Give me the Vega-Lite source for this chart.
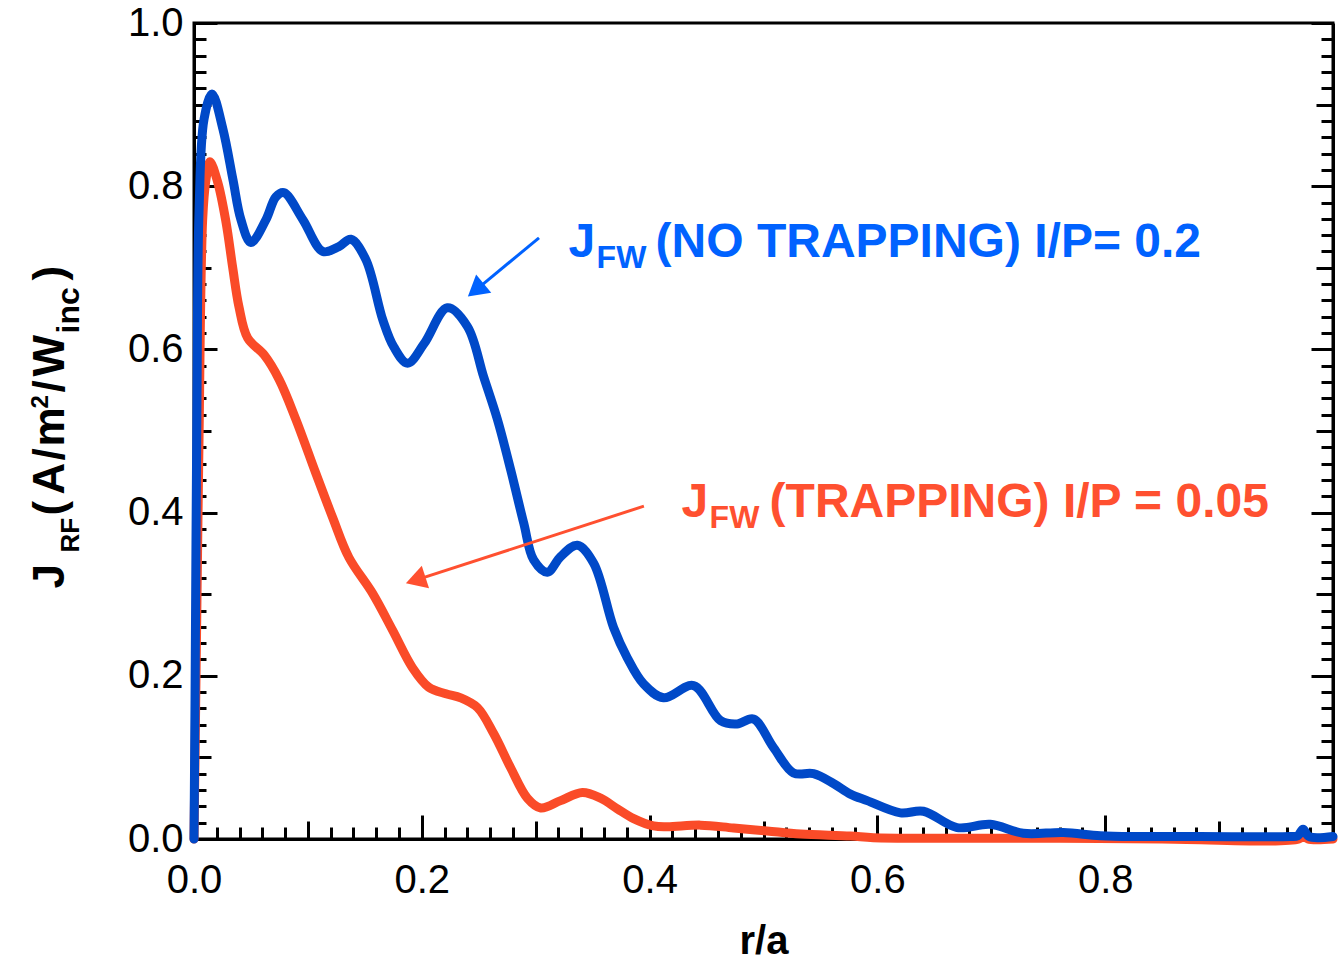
{
  "$schema": "https://vega.github.io/schema/vega-lite/v6.json",
  "autosize": {"type": "none"},
  "padding": {"left": 194, "top": 23, "right": 5, "bottom": 129},
  "width": 1139,
  "height": 816,
  "background": "white",
  "data": {"values": [{}]},
  "config": {
    "view": {"stroke": "black", "strokeWidth": 3},
    "axis": {
      "grid": false,
      "domainColor": "black",
      "domainWidth": 3,
      "tickColor": "black",
      "tickWidth": 3,
      "labelFont": "Liberation Sans",
      "labelFontSize": 40,
      "labelColor": "black",
      "labelFlush": false,
      "labelOverlap": false,
      "titleColor": "black"
    }
  },
  "datasets": {
    "notrap": [
      {"r": 0, "j": 0}, {"r": 0.0009, "j": 0.17}, {"r": 0.0026, "j": 0.538}, {"r": 0.0044, "j": 0.768},
      {"r": 0.0088, "j": 0.882}, {"r": 0.0158, "j": 0.913}, {"r": 0.0254, "j": 0.87}, {"r": 0.0342, "j": 0.808},
      {"r": 0.0412, "j": 0.759}, {"r": 0.05, "j": 0.731}, {"r": 0.0632, "j": 0.759}, {"r": 0.0719, "j": 0.787},
      {"r": 0.0789, "j": 0.792}, {"r": 0.0956, "j": 0.759}, {"r": 0.1132, "j": 0.72}, {"r": 0.1272, "j": 0.726},
      {"r": 0.1377, "j": 0.735}, {"r": 0.1509, "j": 0.71}, {"r": 0.1658, "j": 0.636}, {"r": 0.1754, "j": 0.603},
      {"r": 0.1875, "j": 0.583}, {"r": 0.202, "j": 0.607}, {"r": 0.2225, "j": 0.651}, {"r": 0.2401, "j": 0.628},
      {"r": 0.2544, "j": 0.566}, {"r": 0.2664, "j": 0.514}, {"r": 0.2781, "j": 0.452}, {"r": 0.2895, "j": 0.387},
      {"r": 0.2982, "j": 0.342}, {"r": 0.3103, "j": 0.327}, {"r": 0.3219, "j": 0.346}, {"r": 0.3366, "j": 0.36},
      {"r": 0.3509, "j": 0.338}, {"r": 0.3684, "j": 0.259}, {"r": 0.3804, "j": 0.222}, {"r": 0.3947, "j": 0.19},
      {"r": 0.4123, "j": 0.173}, {"r": 0.4386, "j": 0.188}, {"r": 0.4623, "j": 0.145}, {"r": 0.4769, "j": 0.141},
      {"r": 0.4912, "j": 0.147}, {"r": 0.5088, "j": 0.112}, {"r": 0.5263, "j": 0.081}, {"r": 0.5439, "j": 0.08},
      {"r": 0.5614, "j": 0.068}, {"r": 0.5763, "j": 0.055}, {"r": 0.591, "j": 0.047}, {"r": 0.6202, "j": 0.032},
      {"r": 0.6404, "j": 0.034}, {"r": 0.6699, "j": 0.014}, {"r": 0.6991, "j": 0.018}, {"r": 0.7281, "j": 0.007},
      {"r": 0.7632, "j": 0.008}, {"r": 0.7956, "j": 0.004}, {"r": 0.8307, "j": 0.003}, {"r": 0.8833, "j": 0.003},
      {"r": 0.9623, "j": 0.003}, {"r": 0.969, "j": 0.004}, {"r": 0.9737, "j": 0.012}, {"r": 0.9789, "j": 0.003},
      {"r": 1.0, "j": 0.003}
    ],
    "trap": [
      {"r": 0, "j": 0}, {"r": 0.0026, "j": 0.292}, {"r": 0.0044, "j": 0.489}, {"r": 0.0076, "j": 0.759},
      {"r": 0.0105, "j": 0.808}, {"r": 0.014, "j": 0.83}, {"r": 0.0208, "j": 0.805}, {"r": 0.0281, "j": 0.756},
      {"r": 0.0339, "j": 0.701}, {"r": 0.0395, "j": 0.652}, {"r": 0.0471, "j": 0.614}, {"r": 0.0617, "j": 0.593},
      {"r": 0.0748, "j": 0.563}, {"r": 0.0895, "j": 0.514}, {"r": 0.107, "j": 0.448}, {"r": 0.1217, "j": 0.394},
      {"r": 0.136, "j": 0.345}, {"r": 0.1568, "j": 0.301}, {"r": 0.1743, "j": 0.256}, {"r": 0.1918, "j": 0.21},
      {"r": 0.2061, "j": 0.186}, {"r": 0.2211, "j": 0.178}, {"r": 0.2342, "j": 0.173}, {"r": 0.2489, "j": 0.161},
      {"r": 0.2632, "j": 0.129}, {"r": 0.2781, "j": 0.087}, {"r": 0.2927, "j": 0.05}, {"r": 0.3044, "j": 0.038},
      {"r": 0.3219, "j": 0.047}, {"r": 0.341, "j": 0.057}, {"r": 0.357, "j": 0.05}, {"r": 0.3717, "j": 0.037},
      {"r": 0.386, "j": 0.025}, {"r": 0.4035, "j": 0.016}, {"r": 0.4155, "j": 0.015}, {"r": 0.4447, "j": 0.017},
      {"r": 0.4737, "j": 0.0135}, {"r": 0.5032, "j": 0.0098}, {"r": 0.5325, "j": 0.0061}, {"r": 0.5763, "j": 0.0037},
      {"r": 0.5965, "j": 0.0016}, {"r": 0.664, "j": 0.001}, {"r": 0.76, "j": 0.001}, {"r": 0.85, "j": 0.0},
      {"r": 0.97, "j": 0.0}, {"r": 0.974, "j": 0.004}, {"r": 0.978, "j": 0.0}, {"r": 1.0, "j": 0.0}
    ]
  },
  "resolve": {"axis": {"x": "independent", "y": "independent"}},
  "layer": [
    {
      "data": {"name": "trap"},
      "mark": {"type": "line", "color": "#FA4B28", "strokeWidth": 9, "interpolate": "catmull-rom", "strokeJoin": "round", "strokeCap": "round"},
      "encoding": {
        "x": {"field": "r", "type": "quantitative", "scale": {"domain": [0, 1], "nice": false, "zero": false},
          "axis": {"orient": "bottom", "values": [0, 0.2, 0.4, 0.6, 0.8], "format": ".1f", "tickSize": -24, "labelPadding": 45,
            "title": "r/a", "titleFont": "Liberation Sans", "titleFontSize": 40, "titleFontWeight": "bold", "titlePadding": 21}},
        "y": {"field": "j", "type": "quantitative", "scale": {"domain": [0, 1], "nice": false, "zero": false},
          "axis": {"orient": "left", "values": [0, 0.2, 0.4, 0.6, 0.8, 1.0], "format": ".1f", "tickSize": -23, "labelPadding": 34, "title": null}}
      }
    },
    {
      "data": {"name": "notrap"},
      "mark": {"type": "line", "color": "#0049C8", "strokeWidth": 9, "interpolate": "catmull-rom", "strokeJoin": "round", "strokeCap": "round"},
      "encoding": {
        "x": {"field": "r", "type": "quantitative",
          "axis": {"orient": "bottom", "values": [0.1, 0.3, 0.5, 0.7, 0.9], "tickSize": -18, "labels": false, "domain": false, "title": null}},
        "y": {"field": "j", "type": "quantitative",
          "axis": {"orient": "left", "values": [0.1, 0.3, 0.5, 0.7, 0.9], "tickSize": -17, "labels": false, "domain": false, "title": null}}
      }
    },
    {
      "mark": {"type": "rule", "color": "#FF5030", "strokeWidth": 3},
      "encoding": {
        "x": {"datum": 0.395, "type": "quantitative",
          "axis": {"orient": "bottom", "values": [0.02,0.04,0.06,0.08,0.1,0.12,0.14,0.16,0.18,0.2,0.22,0.24,0.26,0.28,0.3,0.32,0.34,0.36,0.38,0.4,0.42,0.44,0.46,0.48,0.5,0.52,0.54,0.56,0.58,0.6,0.62,0.64,0.66,0.68,0.7,0.72,0.74,0.76,0.78,0.8,0.82,0.84,0.86,0.88,0.9,0.92,0.94,0.96,0.98], "tickSize": -12, "labels": false, "domain": false, "title": null}},
        "y": {"datum": 0.4079, "type": "quantitative",
          "axis": {"orient": "left", "values": [0.02,0.04,0.06,0.08,0.1,0.12,0.14,0.16,0.18,0.2,0.22,0.24,0.26,0.28,0.3,0.32,0.34,0.36,0.38,0.4,0.42,0.44,0.46,0.48,0.5,0.52,0.54,0.56,0.58,0.6,0.62,0.64,0.66,0.68,0.7,0.72,0.74,0.76,0.78,0.8,0.82,0.84,0.86,0.88,0.9,0.92,0.94,0.96,0.98], "tickSize": -12, "labels": false, "domain": false, "title": null}},
        "x2": {"datum": 0.1946},
        "y2": {"datum": 0.3172}
      }
    },
    {
      "mark": {"type": "rule", "color": "#0062FF", "strokeWidth": 3},
      "encoding": {
        "x": {"datum": 0.3029, "type": "quantitative", "axis": null},
        "y": {"datum": 0.7367, "type": "quantitative",
          "axis": {"orient": "right", "values": [0, 0.2, 0.4, 0.6, 0.8, 1.0], "tickSize": -22, "labels": false, "domain": true, "title": null}},
        "x2": {"datum": 0.2474},
        "y2": {"datum": 0.6727}
      }
    },
    {
      "mark": {"type": "point", "shape": "triangle-up", "filled": true, "color": "#FF5030", "opacity": 1, "size": 560, "angle": 252.1},
      "encoding": {
        "x": {"datum": 0.1946, "type": "quantitative", "axis": null},
        "y": {"datum": 0.3172, "type": "quantitative",
          "axis": {"orient": "right", "values": [0.1, 0.3, 0.5, 0.7, 0.9], "tickSize": -17, "labels": false, "domain": false, "title": null}}
      }
    },
    {
      "mark": {"type": "point", "shape": "triangle-up", "filled": true, "color": "#0062FF", "opacity": 1, "size": 560, "angle": 230.3},
      "encoding": {
        "x": {"datum": 0.2474, "type": "quantitative", "axis": null},
        "y": {"datum": 0.6727, "type": "quantitative",
          "axis": {"orient": "right", "values": [0.02,0.04,0.06,0.08,0.1,0.12,0.14,0.16,0.18,0.2,0.22,0.24,0.26,0.28,0.3,0.32,0.34,0.36,0.38,0.4,0.42,0.44,0.46,0.48,0.5,0.52,0.54,0.56,0.58,0.6,0.62,0.64,0.66,0.68,0.7,0.72,0.74,0.76,0.78,0.8,0.82,0.84,0.86,0.88,0.9,0.92,0.94,0.96,0.98], "tickSize": -12, "labels": false, "domain": false, "title": null}}
      }
    },
    {
      "encoding": {
        "x": {"datum": 0.3289, "type": "quantitative", "axis": null},
        "y": {"datum": 0.7138, "type": "quantitative", "axis": null}
      },
      "layer": [
        {"mark": {"type": "text", "text": "J", "align": "left", "baseline": "alphabetic", "font": "Liberation Sans", "fontSize": 48, "fontWeight": "bold", "color": "#0062FF"}},
        {"mark": {"type": "text", "text": "FW", "align": "left", "baseline": "alphabetic", "font": "Liberation Sans", "fontSize": 32, "fontWeight": "bold", "color": "#0062FF", "dx": 28, "dy": 11}},
        {"mark": {"type": "text", "text": "(NO TRAPPING) I/P= 0.2", "align": "left", "baseline": "alphabetic", "font": "Liberation Sans", "fontSize": 48, "fontWeight": "bold", "color": "#0062FF", "dx": 87}}
      ]
    },
    {
      "encoding": {
        "x": {"datum": 0.4281, "type": "quantitative", "axis": null},
        "y": {"datum": 0.3943, "type": "quantitative", "axis": null}
      },
      "layer": [
        {"mark": {"type": "text", "text": "J", "align": "left", "baseline": "alphabetic", "font": "Liberation Sans", "fontSize": 48, "fontWeight": "bold", "color": "#FF5030"}},
        {"mark": {"type": "text", "text": "FW", "align": "left", "baseline": "alphabetic", "font": "Liberation Sans", "fontSize": 32, "fontWeight": "bold", "color": "#FF5030", "dx": 28, "dy": 11}},
        {"mark": {"type": "text", "text": "(TRAPPING) I/P = 0.05", "align": "left", "baseline": "alphabetic", "font": "Liberation Sans", "fontSize": 48, "fontWeight": "bold", "color": "#FF5030", "dx": 88}}
      ]
    },
    {
      "encoding": {
        "x": {"datum": -0.114, "type": "quantitative", "axis": null},
        "y": {"datum": 0.3071, "type": "quantitative", "axis": null}
      },
      "layer": [
        {"mark": {"type": "text", "text": "J", "angle": 270, "align": "left", "baseline": "alphabetic", "font": "Liberation Sans", "fontSize": 44, "fontWeight": "bold", "color": "black"}},
        {"mark": {"type": "text", "text": "RF", "angle": 270, "align": "left", "baseline": "alphabetic", "font": "Liberation Sans", "fontSize": 26, "fontWeight": "bold", "color": "black", "dx": 36, "dy": 15}},
        {"mark": {"type": "text", "text": "(", "angle": 270, "align": "left", "baseline": "alphabetic", "font": "Liberation Sans", "fontSize": 44, "fontWeight": "bold", "color": "black", "dx": 73}},
        {"mark": {"type": "text", "text": "A", "angle": 270, "align": "left", "baseline": "alphabetic", "font": "Liberation Sans", "fontSize": 44, "fontWeight": "bold", "color": "black", "dx": 94}},
        {"mark": {"type": "text", "text": "/", "angle": 270, "align": "left", "baseline": "alphabetic", "font": "Liberation Sans", "fontSize": 44, "fontWeight": "bold", "color": "black", "dx": 128}},
        {"mark": {"type": "text", "text": "m", "angle": 270, "align": "left", "baseline": "alphabetic", "font": "Liberation Sans", "fontSize": 44, "fontWeight": "bold", "color": "black", "dx": 142}},
        {"mark": {"type": "text", "text": "2", "angle": 270, "align": "left", "baseline": "alphabetic", "font": "Liberation Sans", "fontSize": 24, "fontWeight": "bold", "color": "black", "dx": 180, "dy": -16}},
        {"mark": {"type": "text", "text": "/", "angle": 270, "align": "left", "baseline": "alphabetic", "font": "Liberation Sans", "fontSize": 44, "fontWeight": "bold", "color": "black", "dx": 196}},
        {"mark": {"type": "text", "text": "W", "angle": 270, "align": "left", "baseline": "alphabetic", "font": "Liberation Sans", "fontSize": 44, "fontWeight": "bold", "color": "black", "dx": 212}},
        {"mark": {"type": "text", "text": "inc", "angle": 270, "align": "left", "baseline": "alphabetic", "font": "Liberation Sans", "fontSize": 32, "fontWeight": "bold", "color": "black", "dx": 255, "dy": 15}},
        {"mark": {"type": "text", "text": ")", "angle": 270, "align": "left", "baseline": "alphabetic", "font": "Liberation Sans", "fontSize": 44, "fontWeight": "bold", "color": "black", "dx": 308}}
      ]
    }
  ]
}
